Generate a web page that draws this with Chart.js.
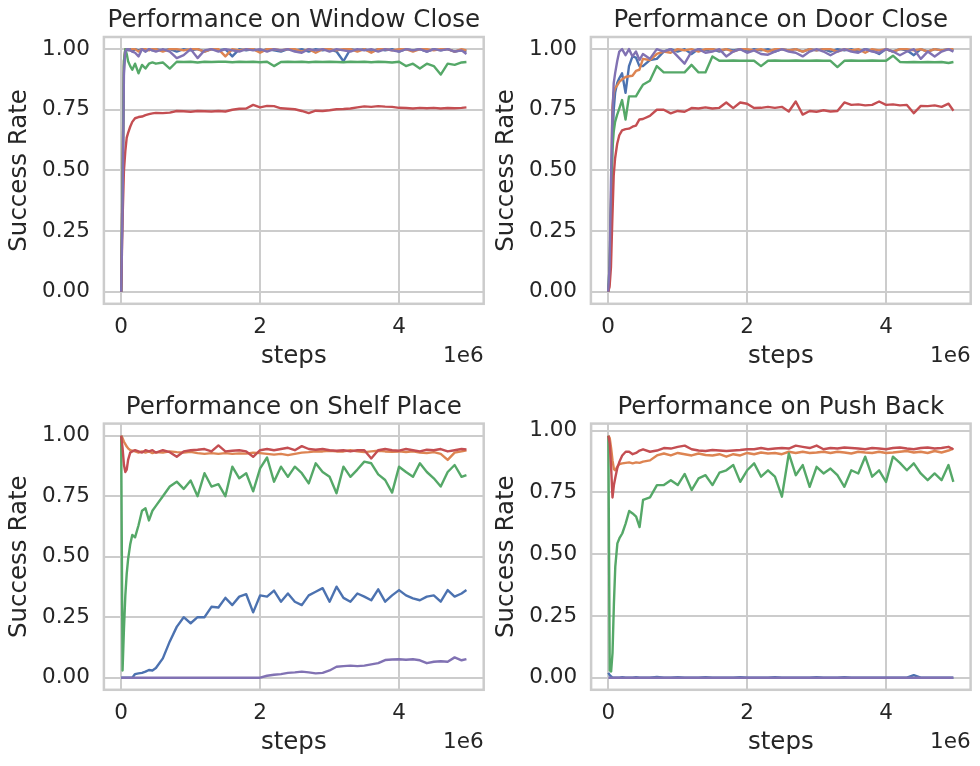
<!DOCTYPE html>
<html><head><meta charset="utf-8">
<script src="https://cdn.jsdelivr.net/npm/chart.js@4.4.1/dist/chart.umd.min.js"></script>
<style>
html,body{margin:0;padding:0;background:#fff;}
#wrap{position:relative;width:980px;height:766px;overflow:hidden;background:#fff;}
canvas{position:absolute;}
</style></head><body><div id="wrap">
<canvas id="c0" width="490" height="383" style="left:0px;top:0px"></canvas>
<canvas id="c1" width="490" height="383" style="left:490px;top:0px"></canvas>
<canvas id="c2" width="490" height="383" style="left:0px;top:383px"></canvas>
<canvas id="c3" width="490" height="383" style="left:490px;top:383px"></canvas>
</div>
<script>
// ---- data (steps in units of 1e6) ----
const STEPS_1E6 = [0, 0.02, 0.04, 0.06, 0.08, 0.1, 0.13, 0.16, 0.2, 0.25,
 0.3, 0.35, 0.4, 0.45, 0.5, 0.6, 0.7, 0.8, 0.9, 1.0,
 1.1, 1.2, 1.3, 1.4, 1.5, 1.6, 1.7, 1.8, 1.9, 2.0,
 2.1, 2.2, 2.3, 2.4, 2.5, 2.6, 2.7, 2.8, 2.9, 3.0,
 3.1, 3.2, 3.3, 3.4, 3.5, 3.6, 3.7, 3.8, 3.9, 4.0,
 4.1, 4.2, 4.3, 4.4, 4.5, 4.6, 4.7, 4.8, 4.9, 4.97];

const X_TICKS = [0, 2000000, 4000000];
const X_TICK_LABELS = ['0', '2', '4'];
const Y_TICKS = [0, 0.25, 0.5, 0.75, 1.0];
const Y_TICK_LABELS = ['0.00', '0.25', '0.50', '0.75', '1.00'];
const TITLES = ['Performance on Window Close', 'Performance on Door Close', 'Performance on Shelf Place', 'Performance on Push Back'];

// Window Close
const WC_BLUE = [0, 0.45, 0.93, 1.0, 1.0, 0.995, 1.0, 0.99, 1.0, 0.995,
 1.0, 0.99, 1.0, 0.995, 1.0, 0.995, 1.0, 0.99, 1.0, 0.995,
 1.0, 0.99, 1.0, 0.995, 1.0, 0.97, 1.0, 0.995, 1.0, 0.99,
 1.0, 0.995, 0.99, 1.0, 0.995, 1.0, 0.99, 1.0, 0.995, 1.0,
 0.99, 0.95, 1.0, 0.995, 1.0, 0.99, 1.0, 0.995, 1.0, 0.99,
 1.0, 0.995, 1.0, 0.99, 1.0, 0.995, 1.0, 0.99, 0.995, 0.99];
const WC_ORANGE = [0, 0.5, 0.95, 1.0, 1.0, 1.0, 0.995, 1.0, 1.0, 0.99,
 1.0, 1.0, 0.995, 1.0, 1.0, 0.99, 1.0, 1.0, 0.995, 1.0,
 1.0, 0.99, 1.0, 1.0, 0.97, 1.0, 0.995, 1.0, 1.0, 0.985,
 1.0, 1.0, 0.995, 1.0, 1.0, 0.99, 1.0, 0.985, 1.0, 1.0,
 0.995, 1.0, 1.0, 0.99, 1.0, 0.985, 1.0, 1.0, 0.995, 1.0,
 1.0, 0.99, 1.0, 1.0, 0.995, 1.0, 1.0, 0.99, 1.0, 0.995];
const WC_GREEN = [0, 0.45, 0.95, 1.0, 0.98, 0.95, 0.93, 0.915, 0.94, 0.90,
 0.935, 0.92, 0.94, 0.945, 0.94, 0.945, 0.92, 0.948, 0.947, 0.948,
 0.945, 0.948, 0.947, 0.948, 0.948, 0.946, 0.948, 0.947, 0.948, 0.946,
 0.948, 0.93, 0.947, 0.948, 0.947, 0.948, 0.946, 0.948, 0.947, 0.948,
 0.947, 0.946, 0.948, 0.947, 0.948, 0.946, 0.948, 0.947, 0.945, 0.948,
 0.93, 0.94, 0.92, 0.94, 0.93, 0.895, 0.94, 0.935, 0.945, 0.947];
const WC_RED = [0, 0.3, 0.5, 0.58, 0.635, 0.655, 0.68, 0.70, 0.715, 0.72,
 0.722, 0.728, 0.732, 0.735, 0.737, 0.736, 0.738, 0.745, 0.744, 0.742,
 0.745, 0.744, 0.743, 0.745, 0.743, 0.75, 0.754, 0.755, 0.77, 0.76,
 0.766, 0.765, 0.756, 0.754, 0.752, 0.745, 0.736, 0.746, 0.745, 0.748,
 0.752, 0.753, 0.755, 0.76, 0.764, 0.762, 0.765, 0.763, 0.762, 0.758,
 0.757, 0.755, 0.758, 0.756, 0.758, 0.755, 0.757, 0.756, 0.758, 0.76];
const WC_PURPLE = [0, 0.35, 0.9, 0.99, 1.0, 1.0, 0.995, 0.99, 0.985, 0.97,
 1.0, 0.99, 1.0, 0.995, 0.99, 1.0, 0.99, 0.963, 0.975, 1.0,
 0.963, 0.995, 1.0, 0.99, 1.0, 0.995, 0.99, 1.0, 0.995, 1.0,
 0.99, 1.0, 0.995, 1.0, 0.99, 0.985, 1.0, 0.995, 1.0, 0.99,
 1.0, 0.995, 0.99, 1.0, 0.995, 1.0, 0.99, 1.0, 0.995, 0.99,
 1.0, 0.995, 1.0, 0.99, 1.0, 0.995, 1.0, 0.99, 0.995, 0.98];

// Door Close
const DC_BLUE = [0, 0.05, 0.3, 0.6, 0.75, 0.82, 0.86, 0.88, 0.9, 0.82,
 0.93, 0.97, 0.965, 0.93, 0.93, 0.955, 0.96, 0.99, 1.0, 0.99,
 1.0, 0.98, 1.0, 0.995, 1.0, 0.99, 1.0, 0.995, 1.0, 0.99,
 1.0, 0.995, 1.0, 0.99, 1.0, 0.995, 1.0, 0.99, 1.0, 0.995,
 1.0, 0.99, 1.0, 0.995, 1.0, 0.99, 1.0, 0.995, 0.98, 1.0,
 0.99, 1.0, 0.995, 0.975, 1.0, 0.99, 1.0, 0.995, 1.0, 0.995];
const DC_ORANGE = [0, 0.05, 0.35, 0.76, 0.82, 0.84, 0.85, 0.865, 0.875, 0.885,
 0.888, 0.89, 0.91, 0.915, 0.96, 0.955, 0.98, 0.99, 0.985, 1.0,
 0.995, 1.0, 0.99, 1.0, 1.0, 0.995, 1.0, 0.99, 1.0, 1.0,
 0.995, 1.0, 0.99, 1.0, 1.0, 0.995, 1.0, 0.99, 1.0, 0.995,
 1.0, 1.0, 0.99, 1.0, 0.995, 1.0, 0.985, 1.0, 0.995, 1.0,
 0.99, 1.0, 1.0, 0.995, 1.0, 0.99, 1.0, 0.995, 1.0, 1.0];
const DC_GREEN = [0, 0.1, 0.35, 0.58, 0.66, 0.70, 0.73, 0.755, 0.79, 0.71,
 0.805, 0.805, 0.805, 0.83, 0.853, 0.87, 0.93, 0.904, 0.904, 0.904,
 0.904, 0.935, 0.904, 0.904, 0.97, 0.952, 0.952, 0.953, 0.952, 0.952,
 0.952, 0.93, 0.952, 0.953, 0.952, 0.952, 0.953, 0.952, 0.952, 0.953,
 0.952, 0.952, 0.926, 0.952, 0.953, 0.952, 0.952, 0.953, 0.952, 0.952,
 0.973, 0.947, 0.946, 0.947, 0.946, 0.947, 0.946, 0.947, 0.943, 0.947];
const DC_RED = [0, 0.02, 0.1, 0.3, 0.48, 0.55, 0.61, 0.645, 0.665, 0.67,
 0.672, 0.68, 0.685, 0.71, 0.712, 0.725, 0.75, 0.75, 0.735, 0.745,
 0.742, 0.757, 0.755, 0.76, 0.755, 0.758, 0.78, 0.757, 0.78, 0.775,
 0.757, 0.758, 0.762, 0.758, 0.762, 0.743, 0.784, 0.73, 0.745, 0.742,
 0.748, 0.743, 0.745, 0.78, 0.77, 0.772, 0.768, 0.77, 0.784, 0.77,
 0.772, 0.768, 0.77, 0.736, 0.766, 0.765, 0.768, 0.762, 0.775, 0.746];
const DC_PURPLE = [0, 0.1, 0.45, 0.72, 0.86, 0.9, 0.95, 0.99, 1.0, 0.975,
 1.0, 0.97, 0.99, 0.955, 0.98, 0.96, 1.0, 0.99, 1.0, 0.97,
 0.94, 0.99, 1.0, 0.985, 0.99, 1.0, 0.97, 0.99, 1.0, 0.985,
 0.995, 0.98, 0.977, 0.99, 1.0, 0.99, 0.985, 0.97, 0.99, 1.0,
 0.99, 0.975, 0.99, 1.0, 0.99, 0.985, 1.0, 0.99, 0.985, 1.0,
 0.99, 0.975, 0.99, 1.0, 0.96, 0.99, 0.97, 0.99, 1.0, 0.99];

// Shelf Place
const SP_BLUE = [0, 0, 0, 0, 0, 0, 0, 0, 0.015, 0.018,
 0.02, 0.025, 0.032, 0.03, 0.04, 0.08, 0.15, 0.21, 0.25, 0.225,
 0.25, 0.25, 0.293, 0.29, 0.33, 0.30, 0.335, 0.345, 0.27, 0.34,
 0.335, 0.36, 0.314, 0.348, 0.314, 0.30, 0.34, 0.355, 0.37, 0.314,
 0.376, 0.33, 0.314, 0.348, 0.335, 0.32, 0.365, 0.314, 0.34, 0.362,
 0.34, 0.328, 0.32, 0.335, 0.34, 0.314, 0.362, 0.335, 0.348, 0.362];
const SP_ORANGE = [1.0, 0.99, 0.975, 0.965, 0.955, 0.948, 0.94, 0.938, 0.935, 0.93,
 0.935, 0.93, 0.935, 0.928, 0.932, 0.93, 0.935, 0.932, 0.93, 0.933,
 0.928, 0.925, 0.928, 0.925, 0.928, 0.925, 0.927, 0.926, 0.93, 0.928,
 0.925, 0.922, 0.925, 0.92, 0.925, 0.93, 0.932, 0.935, 0.935, 0.938,
 0.935, 0.935, 0.94, 0.935, 0.932, 0.935, 0.938, 0.935, 0.933, 0.935,
 0.932, 0.935, 0.93, 0.928, 0.932, 0.925, 0.90, 0.93, 0.935, 0.94];
const SP_GREEN = [1.0, 0.03, 0.2, 0.34, 0.43, 0.49, 0.55, 0.59, 0.58, 0.63,
 0.69, 0.70, 0.65, 0.69, 0.71, 0.75, 0.79, 0.81, 0.78, 0.815,
 0.75, 0.845, 0.79, 0.80, 0.75, 0.872, 0.824, 0.845, 0.77, 0.865,
 0.91, 0.81, 0.872, 0.83, 0.872, 0.845, 0.803, 0.886, 0.85, 0.83,
 0.762, 0.872, 0.83, 0.86, 0.893, 0.886, 0.84, 0.817, 0.765, 0.872,
 0.85, 0.83, 0.886, 0.85, 0.824, 0.79, 0.85, 0.879, 0.83, 0.837];
const SP_RED = [1.0, 0.95, 0.88, 0.85, 0.86, 0.9, 0.93, 0.935, 0.94, 0.935,
 0.93, 0.94, 0.935, 0.94, 0.93, 0.94, 0.932, 0.913, 0.935, 0.94,
 0.942, 0.945, 0.935, 0.96, 0.935, 0.938, 0.94, 0.935, 0.913, 0.94,
 0.945, 0.94, 0.945, 0.95, 0.94, 0.957, 0.945, 0.942, 0.945, 0.94,
 0.938, 0.94, 0.935, 0.94, 0.94, 0.906, 0.94, 0.945, 0.94, 0.938,
 0.945, 0.94, 0.935, 0.942, 0.94, 0.945, 0.935, 0.94, 0.945, 0.943];
const SP_PURPLE = [0, 0, 0, 0, 0, 0, 0, 0, 0, 0,
 0, 0, 0, 0, 0, 0, 0, 0, 0, 0,
 0, 0, 0, 0, 0, 0, 0, 0, 0, 0,
 0.008, 0.012, 0.015, 0.02, 0.022, 0.025, 0.022, 0.018, 0.02, 0.03,
 0.045, 0.048, 0.05, 0.048, 0.05, 0.055, 0.06, 0.073, 0.075, 0.076,
 0.074, 0.076, 0.072, 0.06, 0.066, 0.068, 0.066, 0.084, 0.072, 0.077];

// Push Back
const PB_BLUE = [0.02, 0.01, 0.005, 0, 0, 0, 0, 0, 0.002, 0,
 0, 0, 0.002, 0, 0, 0, 0.003, 0, 0, 0.002,
 0, 0, 0, 0.002, 0, 0, 0, 0, 0.002, 0,
 0, 0, 0, 0.002, 0, 0, 0, 0, 0, 0.002,
 0, 0, 0, 0.002, 0, 0, 0, 0, 0, 0,
 0, 0, 0, 0.01, 0, 0, 0, 0, 0, 0];
const PB_ORANGE = [0.98, 0.97, 0.93, 0.88, 0.845, 0.84, 0.855, 0.865, 0.868, 0.87,
 0.872, 0.868, 0.872, 0.87, 0.875, 0.88, 0.9, 0.908, 0.9, 0.91,
 0.905, 0.9, 0.908, 0.902, 0.9, 0.905, 0.895, 0.905, 0.9, 0.91,
 0.905, 0.912, 0.908, 0.91, 0.905, 0.915, 0.91, 0.915, 0.91, 0.912,
 0.915, 0.91, 0.915, 0.912, 0.908, 0.915, 0.912, 0.91, 0.915, 0.91,
 0.912, 0.915, 0.918, 0.912, 0.915, 0.91, 0.918, 0.912, 0.92, 0.928];
const PB_GREEN = [0.98, 0.03, 0.025, 0.1, 0.3, 0.45, 0.544, 0.565, 0.584, 0.625,
 0.675, 0.665, 0.652, 0.61, 0.72, 0.73, 0.78, 0.78, 0.80, 0.78,
 0.825, 0.76, 0.807, 0.82, 0.78, 0.83, 0.84, 0.861, 0.793, 0.84,
 0.868, 0.814, 0.84, 0.814, 0.733, 0.908, 0.82, 0.861, 0.773, 0.854,
 0.827, 0.847, 0.82, 0.773, 0.84, 0.827, 0.895, 0.814, 0.84, 0.793,
 0.895, 0.87, 0.84, 0.868, 0.827, 0.80, 0.827, 0.80, 0.861, 0.793];
const PB_RED = [0.98, 0.95, 0.85, 0.73, 0.78, 0.81, 0.85, 0.875, 0.9, 0.915,
 0.915, 0.905, 0.91, 0.92, 0.925, 0.915, 0.92, 0.93, 0.928, 0.935,
 0.94, 0.925, 0.92, 0.918, 0.922, 0.92, 0.918, 0.92, 0.922, 0.925,
 0.925, 0.93, 0.925, 0.928, 0.93, 0.928, 0.94, 0.935, 0.93, 0.94,
 0.925, 0.93, 0.928, 0.932, 0.93, 0.928, 0.925, 0.93, 0.928, 0.925,
 0.93, 0.932, 0.928, 0.925, 0.93, 0.932, 0.928, 0.93, 0.935, 0.925];
const PB_PURPLE = [0, 0, 0, 0, 0, 0, 0, 0, 0, 0,
 0, 0, 0, 0, 0, 0, 0, 0, 0, 0,
 0, 0, 0, 0, 0, 0, 0, 0, 0, 0,
 0, 0, 0, 0, 0, 0, 0, 0, 0, 0,
 0, 0, 0, 0, 0, 0, 0, 0, 0, 0,
 0, 0, 0, 0, 0, 0, 0, 0, 0, 0];

// ---- styling / layout ----
const COLORS = ['#4C72B0', '#DD8452', '#55A868', '#C44E52', '#8172B3'];
const TEXT = '#262626';
const GRID = '#cccccc';
const FONT = 'DejaVu Sans';
const TITLE_SIZE = 24.5, LABEL_SIZE = 24.5, TICK_SIZE = 21.5;

const PANELS = [
  {id: 'c0', title: TITLES[0], series: [WC_BLUE, WC_ORANGE, WC_GREEN, WC_RED, WC_PURPLE], yMin: -0.05, yMax: 1.05, cx: 0, cy: 0, area: {l: 103.9, t: 37, r: 483.7, b: 303.8}},
  {id: 'c1', title: TITLES[1], series: [DC_BLUE, DC_ORANGE, DC_GREEN, DC_RED, DC_PURPLE], yMin: -0.05, yMax: 1.05, cx: 490, cy: 0, area: {l: 590.9, t: 37, r: 970.7, b: 303.8}},
  {id: 'c2', title: TITLES[2], series: [SP_BLUE, SP_ORANGE, SP_GREEN, SP_RED, SP_PURPLE], yMin: -0.05, yMax: 1.05, cx: 0, cy: 383, area: {l: 103.9, t: 423.6, r: 483.7, b: 689.8}},
  {id: 'c3', title: TITLES[3], series: [PB_BLUE, PB_ORANGE, PB_GREEN, PB_RED, PB_PURPLE], yMin: -0.049, yMax: 1.029, cx: 490, cy: 383, area: {l: 591.1, t: 423.6, r: 970.6, b: 689.8}}
];
const X_MIN = -248500, X_MAX = 5218500;

const framePlugin = {
  id: 'frame',
  afterDatasetsDraw(chart) {
    const {ctx, chartArea: a} = chart;
    ctx.save();
    ctx.strokeStyle = GRID;
    ctx.lineWidth = 2.5;
    ctx.strokeRect(a.left, a.top, a.right - a.left, a.bottom - a.top);
    ctx.restore();
  },
  afterDraw(chart) {
    const {ctx, chartArea: a} = chart;
    ctx.save();
    ctx.fillStyle = TEXT;
    ctx.font = TICK_SIZE + 'px "' + FONT + '"';
    ctx.textAlign = 'right';
    ctx.textBaseline = 'alphabetic';
    ctx.fillText('1e6', a.right, a.bottom + 57.7);
    ctx.restore();
  }
};

PANELS.forEach(p => {
  const CW = 490, CH = 383;
  const yAxisW = p.area.l - p.cx;
  const padRight = p.cx + CW - p.area.r;
  const topInCanvas = p.area.t - p.cy;
  const titleLH = TITLE_SIZE * 1.2;
  const titleMid = topInCanvas - 16.2;
  const titlePadTop = titleMid - titleLH / 2;
  const titlePadBottom = topInCanvas - titleLH - titlePadTop;
  const xAxisH = 67.4;
  const padBottom = p.cy + CH - p.area.b - xAxisH;
  const yTitleCenter = p.area.l - 84.1 - p.cx;
  const yTitlePad = yTitleCenter - LABEL_SIZE * 1.2 / 2;

  // later series are drawn on top (blue first, purple last)
  const datasets = p.series.map((vals, i) => ({
    data: STEPS_1E6.map((s, k) => ({x: s * 1e6, y: vals[k]})),
    borderColor: COLORS[i],
    backgroundColor: COLORS[i],
    borderWidth: 2.4,
    pointRadius: 0,
    tension: 0,
    fill: false,
    order: -i,
    borderJoinStyle: 'round'
  }));

  new Chart(document.getElementById(p.id), {
    type: 'line',
    data: {datasets},
    plugins: [framePlugin],
    options: {
      responsive: false,
      animation: false,
      events: [],
      layout: {padding: {left: 0, right: padRight, top: 0, bottom: padBottom}},
      plugins: {
        legend: {display: false},
        tooltip: {enabled: false},
        title: {
          display: true, text: p.title, color: TEXT, fullSize: false,
          font: {family: FONT, size: TITLE_SIZE, weight: 'normal'},
          padding: {top: titlePadTop, bottom: titlePadBottom}
        }
      },
      scales: {
        x: {
          type: 'linear', min: X_MIN, max: X_MAX,
          afterBuildTicks: s => { s.ticks = X_TICKS.map(v => ({value: v})); },
          afterFit: s => { s.height = xAxisH; },
          ticks: {
            color: TEXT, padding: 10.9, maxRotation: 0, autoSkip: false,
            font: {family: FONT, size: TICK_SIZE},
            callback: (v) => X_TICK_LABELS[X_TICKS.indexOf(v)] ?? ''
          },
          grid: {color: GRID, lineWidth: 2, drawTicks: false},
          border: {display: false},
          title: {display: true, text: 'steps', color: TEXT, font: {family: FONT, size: LABEL_SIZE}, padding: 0}
        },
        y: {
          type: 'linear', min: p.yMin, max: p.yMax,
          afterBuildTicks: s => { s.ticks = Y_TICKS.map(v => ({value: v})); },
          afterFit: s => { s.width = yAxisW; },
          ticks: {
            color: TEXT, padding: 14, autoSkip: false,
            font: {family: FONT, size: TICK_SIZE},
            callback: (v) => Y_TICK_LABELS[Y_TICKS.indexOf(v)] ?? ''
          },
          grid: {color: GRID, lineWidth: 2, drawTicks: false},
          border: {display: false},
          title: {display: true, text: 'Success Rate', color: TEXT, font: {family: FONT, size: LABEL_SIZE}, padding: {top: yTitlePad, bottom: 0}}
        }
      }
    }
  });
});
</script>
</body></html>
